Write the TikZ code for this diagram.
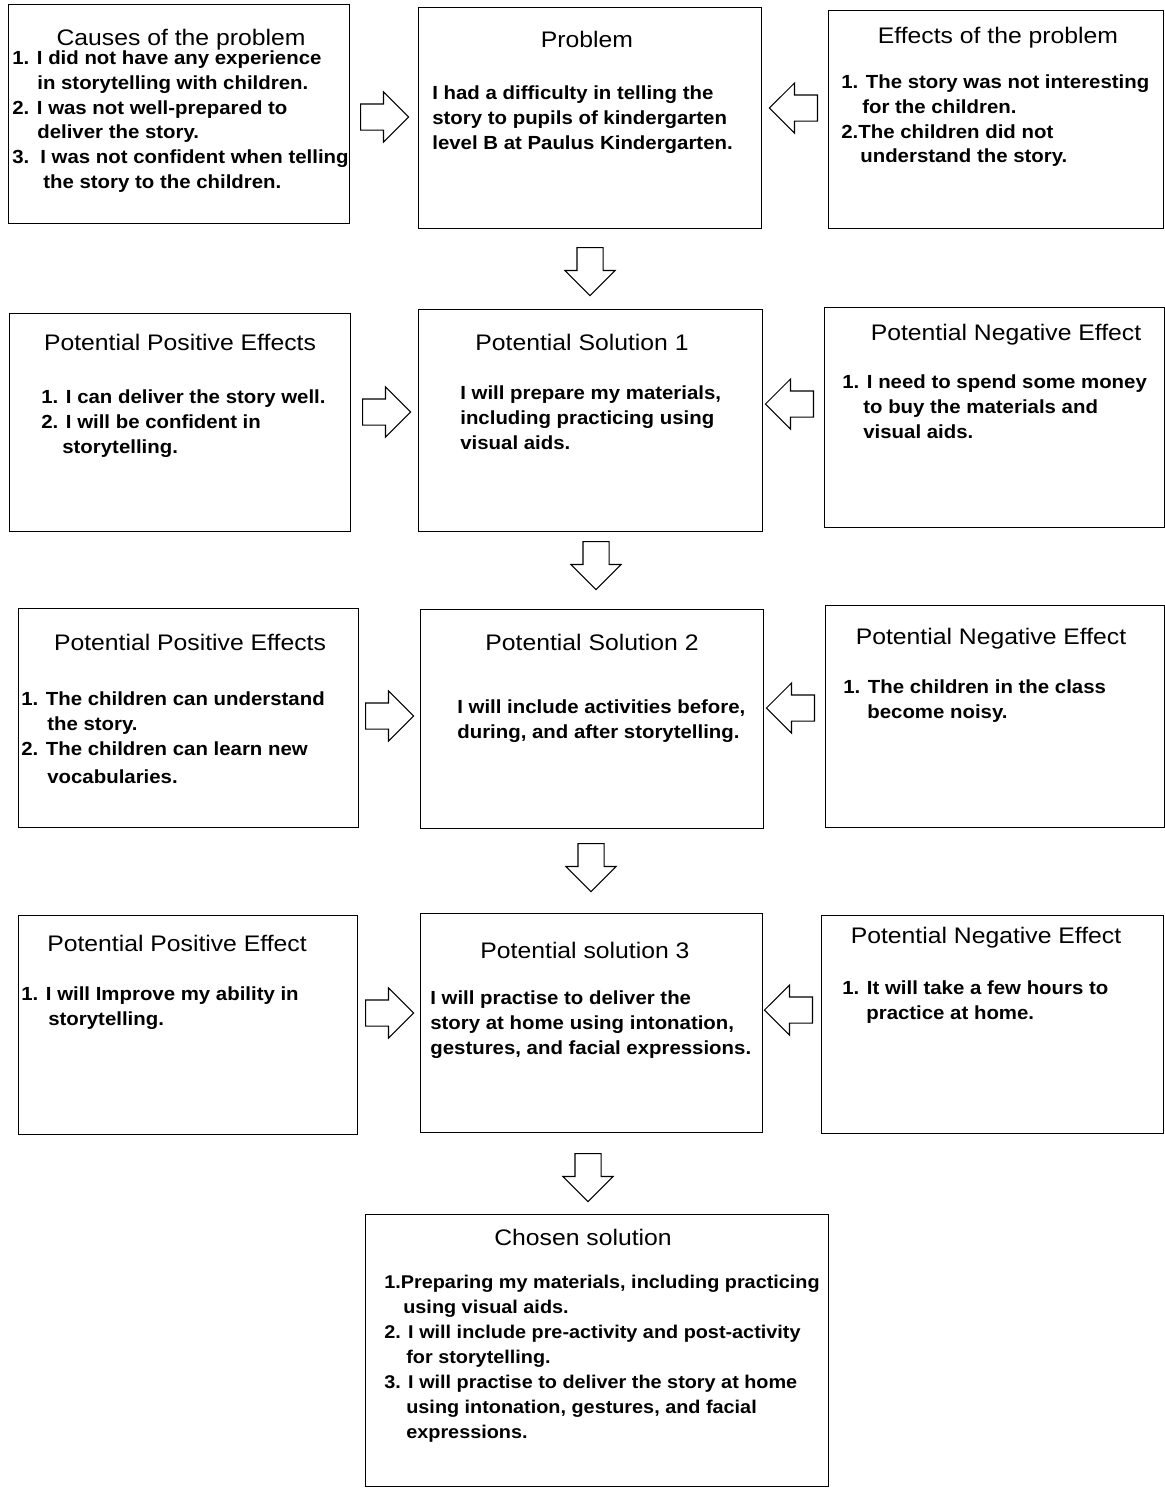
\documentclass[tikz,border=0pt]{standalone}
\usepackage{fontspec}
\setmainfont{Liberation Sans}[FakeStretch=1.075]
\newfontfamily\titlefam{Liberation Sans}[FakeStretch=1.1]
\usepackage{tikz}
\usetikzlibrary{shapes.arrows}
\tikzset{
boxnodev1/.style={rectangle, draw=black!100, fill=none, line width=0.7pt, anchor=north west, inner sep=0pt},
titlenodev1/.style={anchor=base, inner sep=0pt, font=\titlefam\fontsize{12.8}{15}\selectfont},
textnodev1/.style={anchor=north west, inner sep=0pt, align=left, font=\fontsize{10.8}{14.2}\selectfont\bfseries},
textnodev2/.style={anchor=north west, inner sep=0pt, align=left, font=\fontsize{10.5}{14.2}\selectfont\bfseries},
blockarrowv1/.style={single arrow, draw=black!100, fill=white, line width=0.6pt, inner xsep=0pt, inner ysep=0.25cm, minimum height=0.96cm, single arrow head extend=0.24cm, single arrow head indent=0pt, anchor=tail},
}

\begin{document}
\begin{tikzpicture}[x=0.02cm,y=-0.02cm]
\useasboundingbox (0,0) rectangle (1165,1488);
%problem row
\node[boxnodev1, minimum width=6.82cm, minimum height=4.38cm] at (8,4) (causes) {};
\node[titlenodev1] at (181,45) (causestitle) {Causes of the problem};
\node[textnodev1] at (12,50) (causestext) {1. I did not have any experience\\\hspace*{0.5cm}in storytelling with children.\\2. I was not well-prepared to\\\hspace*{0.5cm}deliver the story.\\3.\hspace{0.22cm}I was not confident when telling\\\hspace*{0.62cm}the story to the children.};
\node[boxnodev1, minimum width=6.86cm, minimum height=4.42cm] at (418,7) (problem) {};
\node[titlenodev1] at (587,47) (problemtitle) {Problem};
\node[textnodev1] at (432,85) (problemtext) {I had a difficulty in telling the\\story to pupils of kindergarten\\level B at Paulus Kindergarten.};
\node[boxnodev1, minimum width=6.70cm, minimum height=4.36cm] at (828,10) (effects) {};
\node[titlenodev1] at (998,43) (effectstitle) {Effects of the problem};
\node[textnodev1] at (841,74) (effectstext) {1. The story was not interesting\\\hspace*{0.42cm}for the children.\\2.The children did not\\\hspace*{0.38cm}understand the story.};
\node[blockarrowv1] at (360,117) (arrowa) {};
\node[blockarrowv1, rotate=180] at (818,108) (arrowb) {};
\node[blockarrowv1, rotate=-90] at (590,247) (arrowc) {};
%solution 1
\node[boxnodev1, minimum width=6.82cm, minimum height=4.36cm] at (9,313) (posa) {};
\node[titlenodev1] at (180,350) (posatitle) {Potential Positive Effects};
\node[textnodev1] at (41,389) (posatext) {1. I can deliver the story well.\\2. I will be confident in\\\hspace*{0.42cm}storytelling.};
\node[boxnodev1, minimum width=6.88cm, minimum height=4.44cm] at (418,309) (sola) {};
\node[titlenodev1] at (582,350) (solatitle) {Potential Solution 1};
\node[textnodev1] at (460,385) (solatext) {I will prepare my materials,\\including practicing using\\visual aids.};
\node[boxnodev1, minimum width=6.80cm, minimum height=4.40cm] at (824,307) (nega) {};
\node[titlenodev1] at (1006,340) (negatitle) {Potential Negative Effect};
\node[textnodev1] at (842,374) (negatext) {1. I need to spend some money\\\hspace*{0.42cm}to buy the materials and\\\hspace*{0.42cm}visual aids.};
\node[blockarrowv1] at (362,412) (arrowd) {};
\node[blockarrowv1, rotate=180] at (814,404) (arrowe) {};
\node[blockarrowv1, rotate=-90] at (596,541) (arrowf) {};
%solution 2
\node[boxnodev1, minimum width=6.80cm, minimum height=4.38cm] at (18,608) (posb) {};
\node[titlenodev1] at (190,650) (posbtitle) {Potential Positive Effects};
\node[textnodev1] at (21,691) (posbtext) {1. The children can understand\\\hspace*{0.52cm}the story.\\2. The children can learn new\\[2pt]\hspace*{0.52cm}vocabularies.};
\node[boxnodev1, minimum width=6.86cm, minimum height=4.38cm] at (420,609) (solb) {};
\node[titlenodev1] at (592,650) (solbtitle) {Potential Solution 2};
\node[textnodev1] at (457,699) (solbtext) {I will include activities before,\\during, and after storytelling.};
\node[boxnodev1, minimum width=6.78cm, minimum height=4.44cm] at (825,605) (negb) {};
\node[titlenodev1] at (991,644) (negbtitle) {Potential Negative Effect};
\node[textnodev1] at (843,679) (negbtext) {1. The children in the class\\\hspace*{0.48cm}become noisy.};
\node[blockarrowv1] at (365,716) (arrowg) {};
\node[blockarrowv1, rotate=180] at (815,708) (arrowh) {};
\node[blockarrowv1, rotate=-90] at (591,843) (arrowi) {};
%solution 3
\node[boxnodev1, minimum width=6.78cm, minimum height=4.38cm] at (18,915) (posc) {};
\node[titlenodev1] at (177,951) (posctitle) {Potential Positive Effect};
\node[textnodev1] at (21,986) (posctext) {1. I will Improve my ability in\\\hspace*{0.54cm}storytelling.};
\node[boxnodev1, minimum width=6.84cm, minimum height=4.38cm] at (420,913) (solc) {};
\node[titlenodev1] at (585,958) (solctitle) {Potential solution 3};
\node[textnodev1] at (430,990) (solctext) {I will practise to deliver the\\story at home using intonation,\\gestures, and facial expressions.};
\node[boxnodev1, minimum width=6.84cm, minimum height=4.36cm] at (821,915) (negc) {};
\node[titlenodev1] at (986,943) (negctitle) {Potential Negative Effect};
\node[textnodev1] at (842,980) (negctext) {1. It will take a few hours to\\\hspace*{0.48cm}practice at home.};
\node[blockarrowv1] at (365,1013) (arrowj) {};
\node[blockarrowv1, rotate=180] at (813,1010) (arrowk) {};
\node[blockarrowv1, rotate=-90] at (588,1153) (arrowl) {};
%chosen solution
\node[boxnodev1, minimum width=9.26cm, minimum height=5.44cm] at (365,1214) (chosen) {};
\node[titlenodev1] at (583,1245) (chosentitle) {Chosen solution};
\node[textnodev2] at (384,1275) (chosentext) {1.Preparing my materials, including practicing\\\hspace*{0.38cm}using visual aids.\\2. I will include pre-activity and post-activity\\\hspace*{0.44cm}for storytelling.\\3. I will practise to deliver the story at home\\\hspace*{0.44cm}using intonation, gestures, and facial\\\hspace*{0.44cm}expressions.};
\end{tikzpicture}
\end{document}
